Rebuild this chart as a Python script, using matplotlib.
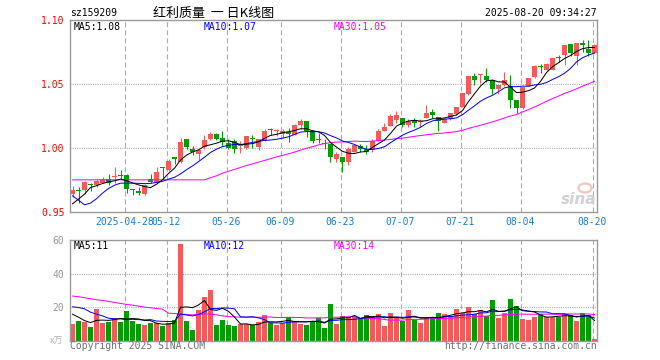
import matplotlib
matplotlib.use("Agg")
import matplotlib.pyplot as plt
import numpy as np
import pandas as pd
from matplotlib.patches import Ellipse

plt.rcParams['lines.scale_dashes'] = False
plt.rcParams['font.family'] = ['DejaVu Sans Mono', 'Noto Sans CJK SC']

# ---------------- data ----------------
code = "sz159209"
title = "红利质量  一 日K线图"
timestamp = "2025-08-20 09:34:27"

open_ = [
    0.9640, 0.9670, 0.9670, 0.9713, 0.9707, 0.9727, 0.9758, 0.9770, 0.9779, 0.9784,
    0.9672, 0.9662, 0.9636, 0.9758, 0.9727, 0.9845, 0.9826, 0.9917, 0.9888, 1.0065,
    0.9992, 0.9948, 1.0008, 1.0070, 1.0104, 1.0073, 1.0034, 1.0055, 1.0016, 1.0000,
    1.0067, 1.0008, 1.0052, 1.0137, 1.0128, 1.0106, 1.0122, 1.0096, 1.0174, 1.0205,
    1.0130, 1.0067, 1.0032, 1.0030, 0.9910, 0.9927, 0.9888, 0.9966, 1.0015, 0.9992,
    0.9985, 1.0052, 1.0130, 1.0169, 1.0216, 1.0234, 1.0174, 1.0214, 1.0202, 1.0234,
    1.0278, 1.0242, 1.0195, 1.0224, 1.0265, 1.0316, 1.0424, 1.0559, 1.0568, 1.0564,
    1.0527, 1.0460, 1.0490, 1.0485, 1.0370, 1.0310, 1.0480, 1.0550, 1.0634, 1.0608,
    1.0612, 1.0703, 1.0727, 1.0809, 1.0719, 1.0820, 1.0775, 1.0745]
close = [
    0.9670, 0.9660, 0.9730, 0.9710, 0.9740, 0.9758, 0.9722, 0.9772, 0.9777, 0.9680,
    0.9670, 0.9644, 0.9709, 0.9732, 0.9813, 0.9843, 0.9893, 0.9915, 1.0047, 1.0008,
    0.9966, 0.9979, 1.0057, 1.0104, 1.0070, 1.0044, 0.9995, 0.9992, 1.0019, 1.0088,
    1.0064, 1.0065, 1.0128, 1.0135, 1.0130, 1.0127, 1.0104, 1.0174, 1.0205, 1.0130,
    1.0052, 1.0062, 1.0030, 0.9930, 0.9948, 0.9888, 0.9987, 1.0018, 0.9990, 0.9966,
    1.0052, 1.0130, 1.0164, 1.0245, 1.0252, 1.0174, 1.0208, 1.0195, 1.0210, 1.0268,
    1.0252, 1.0208, 1.0226, 1.0273, 1.0320, 1.0427, 1.0559, 1.0533, 1.0572, 1.0528,
    1.0456, 1.0487, 1.0532, 1.0371, 1.0310, 1.0474, 1.0545, 1.0636, 1.0630, 1.0657,
    1.0701, 1.0700, 1.0805, 1.0745, 1.0818, 1.0808, 1.0745, 1.0808]
high = [
    0.9700, 0.9690, 0.9740, 0.9725, 0.9758, 0.9771, 0.9797, 0.9849, 0.9823, 0.9790,
    0.9675, 0.9688, 0.9714, 0.9797, 0.9852, 0.9847, 0.9914, 0.9930, 1.0073, 1.0067,
    1.0013, 0.9987, 1.0096, 1.0122, 1.0117, 1.0130, 1.0070, 1.0070, 1.0052, 1.0091,
    1.0096, 1.0065, 1.0143, 1.0156, 1.0143, 1.0148, 1.0156, 1.0182, 1.0221, 1.0208,
    1.0130, 1.0112, 1.0065, 1.0031, 0.9966, 0.9927, 1.0005, 1.0020, 1.0030, 1.0018,
    1.0070, 1.0148, 1.0190, 1.0260, 1.0286, 1.0234, 1.0221, 1.0234, 1.0226, 1.0338,
    1.0304, 1.0242, 1.0234, 1.0273, 1.0320, 1.0429, 1.0564, 1.0585, 1.0580, 1.0624,
    1.0527, 1.0487, 1.0596, 1.0572, 1.0370, 1.0476, 1.0546, 1.0650, 1.0656, 1.0664,
    1.0702, 1.0728, 1.0806, 1.0812, 1.0820, 1.0845, 1.0845, 1.0815]
low = [
    0.9610, 0.9570, 0.9636, 0.9660, 0.9688, 0.9720, 0.9707, 0.9727, 0.9753, 0.9644,
    0.9629, 0.9629, 0.9631, 0.9722, 0.9722, 0.9758, 0.9818, 0.9873, 0.9883, 0.9987,
    0.9940, 0.9904, 0.9992, 1.0057, 1.0057, 1.0013, 0.9987, 0.9960, 0.9960, 0.9992,
    1.0000, 0.9982, 1.0052, 1.0096, 1.0091, 1.0075, 1.0044, 1.0096, 1.0143, 1.0086,
    1.0039, 1.0034, 0.9987, 0.9890, 0.9888, 0.9810, 0.9862, 0.9966, 0.9966, 0.9953,
    0.9966, 1.0052, 1.0130, 1.0169, 1.0195, 1.0164, 1.0164, 1.0164, 1.0164, 1.0234,
    1.0234, 1.0130, 1.0190, 1.0220, 1.0255, 1.0316, 1.0416, 1.0494, 1.0507, 1.0512,
    1.0418, 1.0418, 1.0480, 1.0310, 1.0270, 1.0300, 1.0480, 1.0546, 1.0585, 1.0606,
    1.0610, 1.0668, 1.0649, 1.0715, 1.0649, 1.0749, 1.0717, 1.0745]
volume = [
    10.0, 12.0, 11.4, 8.2, 19.0, 10.8, 11.2, 13.8, 11.4, 17.8,
    11.8, 10.0, 9.4, 10.6, 10.4, 8.8, 10.4, 12.4, 57.4, 11.8,
    6.4, 18.4, 25.8, 30.4, 9.4, 12.4, 9.4, 8.8, 9.8, 9.8,
    9.2, 11.2, 15.4, 10.8, 9.4, 10.8, 14.2, 11.8, 10.2, 9.4,
    12.0, 13.4, 7.6, 22.0, 10.0, 14.8, 14.0, 14.4, 13.4, 15.4,
    14.4, 16.0, 8.8, 16.4, 13.8, 12.0, 18.4, 12.4, 10.6, 14.4,
    14.0, 16.6, 16.0, 14.8, 19.0, 16.4, 20.2, 16.0, 18.4, 14.8,
    24.4, 13.8, 16.8, 25.0, 20.8, 13.0, 12.4, 14.4, 16.0, 14.4,
    14.0, 14.0, 16.0, 15.4, 12.0, 16.4, 15.4, 1.0]

# moving-average values before a full window is available
ma5_head = [0.9560, 0.9597, 0.9636, 0.9688]
ma10_head = [0.9623, 0.9589, 0.9552, 0.9566, 0.9600, 0.9644, 0.9680, 0.9706, 0.9722]
ma30_head = [0.9748, 0.9748, 0.9748, 0.9748, 0.9748, 0.9748, 0.9748, 0.9748,
             0.9748, 0.9748, 0.9748, 0.9748, 0.9748, 0.9748, 0.9748, 0.9748,
             0.9748, 0.9748, 0.9748, 0.9748, 0.9748, 0.9748, 0.9748,
             0.9765, 0.9780, 0.9800, 0.9815, 0.9830, 0.9845]
vma5_head = [15.8, 14.0, 12.0, 10.8]
vma10_head = [20.2, 19.8, 19.0, 17.0, 15.8, 14.8, 13.4, 13.0, 13.0]
vma30_head = [26.6, 26.2, 25.6, 25.0, 24.4, 24.0, 23.4, 22.8, 22.2, 21.6,
              21.2, 20.6, 20.0, 19.6, 19.2, 18.8, 16.4, 16.2, 15.8, 15.6,
              15.4, 15.6, 16.0, 15.8, 15.4, 14.8, 14.4, 14.2, 14.0]

tick_pos = [9, 16, 26, 35, 45, 55, 65, 75, 87]
tick_labels = ["2025-04-28", "05-12", "05-26", "06-09", "06-23",
               "07-07", "07-21", "08-04", "08-20"]
price_ticks = [0.95, 1.00, 1.05, 1.10]
price_tick_labels = ["0.95", "1.00", "1.05", "1.10"]
vol_ticks = [20, 40, 60]
vol_tick_labels = ["20", "40", "60"]
ma_price_labels = ["MA5:1.08", "MA10:1.07", "MA30:1.05"]
ma_vol_labels = ["MA5:11", "MA10:12", "MA30:14"]


def with_head(values, n, head):
    s = pd.Series(values).rolling(n).mean().to_numpy()
    s[:len(head)] = head
    return s


o = np.array(open_); c = np.array(close); h = np.array(high); l = np.array(low)
v = np.array(volume)
x = np.arange(len(c))
ma5 = with_head(c, 5, ma5_head)
ma10 = with_head(c, 10, ma10_head)
ma30 = with_head(c, 30, ma30_head)
vma5 = with_head(v, 5, vma5_head)
vma10 = with_head(v, 10, vma10_head)
vma30 = with_head(v, 30, vma30_head)

# ---------------- styling ----------------
W, H = 660, 360
RED = '#f65959'
GREEN = '#009e00'
BLACK = '#000000'
BLUE = '#0000ff'
MAGENTA = '#ff00ff'
FRAME = '#9a9a9a'
GRID = '#ababab'
DATE_COLOR = '#1a7ccf'
body_w = 5 / 6
xl = (-2.5 / 6, (597 - 72.5) / 6)
line_off = 0.333
MA_LW = 0.72

fig = plt.figure(figsize=(W / 100, H / 100), dpi=100)
fig.patch.set_facecolor('white')


def px_axes(left, top, right, bottom):
    return fig.add_axes([left / W, 1 - bottom / H, (right - left) / W, (bottom - top) / H])


def ftext(px, py, s, **kw):
    fig.text(px / W, 1 - py / H, s, **kw)


ax = px_axes(70, 20, 597, 211.5)
axv = px_axes(70, 240, 597, 340.7)

colors = np.where(c >= o, RED, GREEN)

for a in (ax, axv):
    a.set_xlim(*xl)
    for sp in a.spines.values():
        sp.set_color(FRAME)
        sp.set_linewidth(1.0)
    for t in tick_pos:
        a.axvline(t - line_off, color=GRID, lw=0.8, ls=(0, (3.6, 2.2)), zorder=1)
    a.tick_params(length=0)

# price panel
ax.set_ylim(0.95, 1.10)
for gy in (1.00, 1.05):
    ax.axhline(gy, color=GRID, lw=0.8, ls=(0, (0.72, 0.9)), zorder=1)
ax.vlines(x, l, h, colors=colors, lw=0.75, zorder=2)
body_h = np.maximum(np.abs(c - o), 0.0008)
ax.bar(x, body_h, bottom=np.minimum(o, c), width=body_w, color=colors,
       linewidth=0, zorder=2)
ax.plot(x, ma30, color=MAGENTA, lw=MA_LW, zorder=3)
ax.plot(x, ma10, color=BLUE, lw=MA_LW, zorder=3)
ax.plot(x, ma5, color=BLACK, lw=MA_LW, zorder=3)
ax.set_yticks(price_ticks)
ax.set_yticklabels(price_tick_labels, color='#ff0000', fontsize=7)
ax.tick_params(axis='y', pad=4)
ax.set_xticks([t - line_off for t in tick_pos])
ax.set_xticklabels(tick_labels, color=DATE_COLOR, fontsize=7)
ax.tick_params(axis='x', pad=4)

# volume panel
axv.set_ylim(0, 60)
for gy in (20, 40):
    axv.axhline(gy, color=GRID, lw=0.8, ls=(0, (0.72, 0.9)), zorder=1)
axv.bar(x, v, width=body_w, color=colors, linewidth=0, zorder=2)
axv.plot(x, vma30, color=MAGENTA, lw=MA_LW, zorder=3)
axv.plot(x, vma10, color=BLUE, lw=MA_LW, zorder=3)
axv.plot(x, vma5, color=BLACK, lw=MA_LW, zorder=3)
axv.set_yticks(vol_ticks)
axv.set_yticklabels(vol_tick_labels, color='#999999', fontsize=7)
axv.tick_params(axis='y', pad=4)
axv.set_xticks([])

# texts
ftext(70, 13, code, fontsize=7, color='black', va='center', ha='left')
ftext(213.5, 13, title, fontsize=9.4, color='black', va='center', ha='center',
      family=['Noto Sans CJK SC', 'DejaVu Sans'])
ftext(597, 13, timestamp, fontsize=7, color='black', va='center', ha='right')
for px, txt, col in zip((74, 204, 334), ma_price_labels, (BLACK, BLUE, MAGENTA)):
    ftext(px, 26.5, txt, fontsize=7, color=col, va='center', ha='left')
for px, txt, col in zip((74, 204, 334), ma_vol_labels, (BLACK, BLUE, MAGENTA)):
    ftext(px, 246, txt, fontsize=7, color=col, va='center', ha='left')
ftext(63, 341, "x万", fontsize=6.5, color='#b5b5b5', va='center', ha='right',
      family=['Noto Sans CJK SC', 'DejaVu Sans'])
ftext(70, 346, "Copyright 2025 SINA.COM", fontsize=7, color='#707070', va='center', ha='left')
ftext(597, 346, "http://finance.sina.com.cn", fontsize=7, color='#707070', va='center', ha='right')

# sina watermark
ftext(596, 200, "sina", fontsize=11, color='#d2d2d2', va='center', ha='right',
      style='italic', weight='bold', family=['DejaVu Sans'])
fig.add_artist(Ellipse((585 / W, 1 - 188 / H), 13 / W, 9 / H, transform=fig.transFigure,
                       facecolor='none', edgecolor='#f2c4c4', lw=1.6))

fig.savefig("out.png", dpi=100)
